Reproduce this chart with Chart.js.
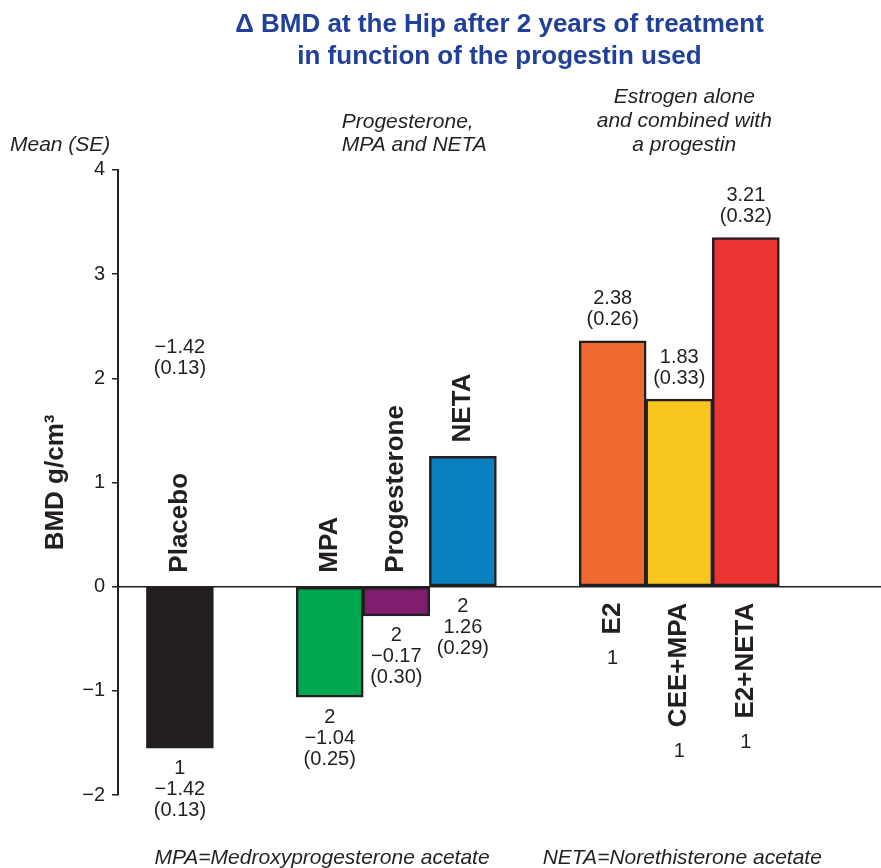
<!DOCTYPE html>
<html>
<head>
<meta charset="utf-8">
<script src="https://cdn.jsdelivr.net/npm/chart.js@4.4.1/dist/chart.umd.min.js"></script>
<style>
	html, body { margin: 0; padding: 0; background: #fff; }
	#wrap { position: relative; width: 881px; height: 868px; }
</style>
</head>
<body>
<div id="wrap"><canvas id="bmdChart"></canvas></div>
<script>
// data
const categories = ['Placebo', 'MPA', 'Progesterone', 'NETA', 'E2', 'CEE+MPA', 'E2+NETA'];
const groups = ['placebo', 'progestin', 'progestin', 'progestin', 'estrogen', 'estrogen', 'estrogen'];
const xSlots = [1, 3.25, 4.25, 5.25, 7.5, 8.5, 9.5];
const barValues = [-1.55, -1.06, -0.28, 1.25, 2.36, 1.80, 3.35];
const studyCounts = ['1', '2', '2', '2', '1', '1', '1'];
const meanLabels = ['\u22121.42', '\u22121.04', '\u22120.17', '1.26', '2.38', '1.83', '3.21'];
const seLabels = ['(0.13)', '(0.25)', '(0.30)', '(0.29)', '(0.26)', '(0.33)', '(0.32)'];
const yRange = { min: -2, max: 4, step: 1 };

const ink = '#231f20';
const fontFamily = '"Liberation Sans", Arial, Helvetica, sans-serif';
const barColors = ['#231f20', '#00a650', '#7f1d6f', '#0b80c0', '#f0692f', '#f9c51f', '#ec3432'];

// all the text around the bars
let bmdAnnotations = {
	id: 'bmdAnnotations',
	afterDatasetsDraw (chart) {
		let { ctx, chartArea, scales: { y } } = chart;
		let bars = chart.getDatasetMeta(0).data;
		let zero = y.getPixelForValue(0);
		let lineGap = 21;

		let lines = (texts, x, yStart, step) => {
			texts.forEach((t, k) => ctx.fillText(t, x, yStart + k * step));
		};
		let rotated = (text, x, yPos, align) => {
			ctx.save();
			ctx.translate(x, yPos);
			ctx.rotate(-Math.PI / 2);
			ctx.textAlign = align;
			ctx.fillText(text, 0, 0);
			ctx.restore();
		};

		ctx.save();
		ctx.fillStyle = ink;
		ctx.textBaseline = 'middle';

		bars.forEach((bar, i) => {
			let top = Math.min(bar.y, bar.base);
			let bottom = Math.max(bar.y, bar.base);
			let cx = bar.x;

			if (groups[i] === 'estrogen') {
				ctx.font = `bold 26px ${fontFamily}`;
				let nameLen = ctx.measureText(categories[i]).width;
				rotated(categories[i], cx, zero + 16, 'right');
				ctx.font = `20px ${fontFamily}`;
				ctx.textAlign = 'center';
				ctx.fillText(studyCounts[i], cx, zero + 16 + nameLen + 24);
				lines([meanLabels[i], seLabels[i]], cx, top - 21 - lineGap, lineGap);
			} else {
				ctx.font = `bold 26px ${fontFamily}`;
				rotated(categories[i], cx, Math.min(top, zero) - 14, 'left');
				ctx.font = `20px ${fontFamily}`;
				ctx.textAlign = 'center';
				lines([studyCounts[i], meanLabels[i], seLabels[i]], cx, Math.max(bottom, zero) + 20, lineGap);
			}
		});

		// stray copy of the placebo value printed in the figure above the bar
		ctx.font = `20px ${fontFamily}`;
		ctx.textAlign = 'center';
		lines([meanLabels[0], seLabels[0]], bars[0].x, y.getPixelForValue(2.2) - 10, lineGap);

		// group captions
		ctx.font = `italic 21px ${fontFamily}`;
		ctx.textAlign = 'left';
		lines(['Progesterone,', 'MPA and NETA'], bars[1].x + 12, chartArea.top - 48, 23);
		ctx.textAlign = 'center';
		lines(['Estrogen alone', 'and combined with', 'a progestin'], bars[5].x + 5, chartArea.top - 73, 24);
		ctx.textAlign = 'left';
		ctx.fillText('Mean (SE)', 10, chartArea.top - 25);

		// footnotes
		ctx.textAlign = 'center';
		ctx.fillText('MPA=Medroxyprogesterone acetate', 322, chartArea.bottom + 63);
		ctx.fillText('NETA=Norethisterone acetate', bars[5].x + 3, chartArea.bottom + 63);

		ctx.restore();
	},
};

let chartConfig = {
	type: 'bar',
	data: {
		datasets: [{
			data: barValues.map((v, i) => ({ x: xSlots[i], y: v })),
			backgroundColor: barColors,
			borderColor: ink,
			borderWidth: 2.5,
			borderSkipped: false,
			barThickness: 67,
		}],
	},
	options: {
		responsive: true,
		maintainAspectRatio: false,
		animation: false,
		layout: {
			padding: { top: 0, right: 0, bottom: 73, left: 0 },
		},
		plugins: {
			legend: { display: false },
			tooltip: { enabled: false },
			title: {
				display: true,
				fullSize: false,
				text: ['\u0394 BMD at the Hip after 2 years of treatment', 'in function of the progestin used'],
				color: '#21409a',
				font: { family: fontFamily, size: 26, weight: 'bold', lineHeight: 1.23 },
				padding: { top: 9, bottom: 97 },
			},
		},
		scales: {
			x: {
				type: 'linear',
				display: false,
				offset: false,
				min: 0.07,
				max: 11.53,
			},
			y: {
				min: yRange.min,
				max: yRange.max,
				afterFit (scale) { scale.width = 118; },
				border: { display: true, color: ink, width: 2 },
				grid: {
					color: (c) => (c.tick && c.tick.value === 0 ? ink : 'rgba(0,0,0,0)'),
					lineWidth: 1.5,
					tickColor: ink,
					tickWidth: 1.5,
					tickLength: 6,
				},
				ticks: {
					stepSize: yRange.step,
					color: ink,
					padding: 7,
					font: { family: fontFamily, size: 20 },
					callback: (v) => String(v).replace('-', '\u2212'),
				},
				title: {
					display: true,
					text: 'BMD g/cm\u00b3',
					color: ink,
					font: { family: fontFamily, size: 26, weight: 'bold', lineHeight: 1.2 },
					padding: { top: 40, bottom: 0 },
				},
			},
		},
	},
	plugins: [ bmdAnnotations ],
};

new Chart(document.getElementById('bmdChart'), chartConfig);
</script>
</body>
</html>
